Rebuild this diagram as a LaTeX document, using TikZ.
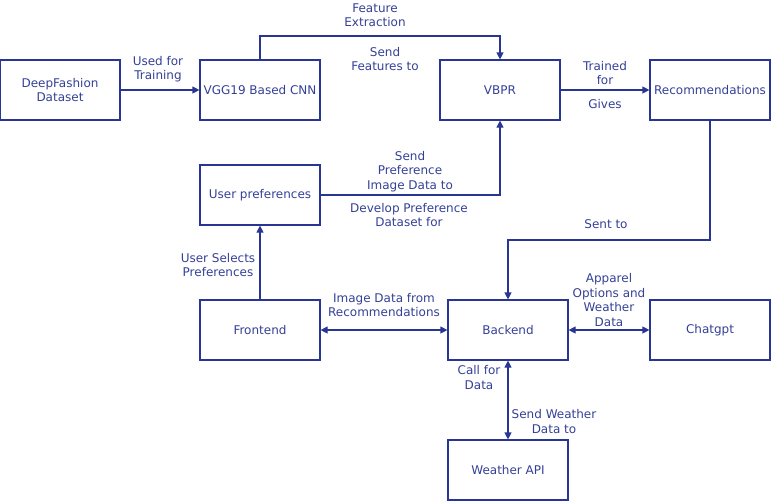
\documentclass[tikz,border=0pt]{standalone}
\usepackage{fontspec}
\setmainfont{DejaVu Sans}
\usetikzlibrary{arrows.meta}
\definecolor{ln}{RGB}{40,53,147}
\definecolor{tx}{RGB}{52,64,150}
\begin{document}
\begin{tikzpicture}[x=1pt,y=-1pt,
  box/.style={draw=ln,line width=1.2pt,minimum width=120pt,minimum height=60pt,inner sep=0pt,text=tx,font=\fontsize{12}{14.5}\selectfont},
  lbl/.style={text=tx,align=center,font=\fontsize{12}{14.5}\selectfont,inner sep=0pt},
  conn/.style={draw=ln,line width=1.2pt,-{Triangle[length=7pt,width=7pt]}},
  conn2/.style={draw=ln,line width=1.2pt,{Triangle[length=7pt,width=7pt]}-{Triangle[length=7pt,width=7pt]}}]
\useasboundingbox (0,0) rectangle (771,501);
\node[box,align=center] (df) at (60,90) {DeepFashion\\Dataset};
\node[box] (vgg) at (260,90) {VGG19 Based CNN};
\node[box] (vbpr) at (500,90) {VBPR};
\node[box] (rec) at (710,90) {Recommendations};
\node[box] (up) at (260,195) {User preferences};
\node[box] (fe) at (260,330) {Frontend};
\node[box] (be) at (508,330) {Backend};
\node[box] (gpt) at (710,330) {Chatgpt};
\node[box] (wapi) at (508,470) {Weather API};
\coordinate (c1) at (260,36);
\coordinate (c2) at (500,36);
\coordinate (c3) at (500,195);
\coordinate (c4) at (710,240);
\coordinate (c5) at (508,240);
\draw[conn] (df) -- (vgg);
\draw[conn] (vgg.north) -- (c1) -- (c2) -- (vbpr.north);
\draw[conn] (vbpr) -- (rec);
\draw[conn] (up.east) -- (c3) -- (vbpr.south);
\draw[conn] (rec.south) -- (c4) -- (c5) -- (be.north);
\draw[conn] (fe) -- (up);
\draw[conn2] (fe) -- (be);
\draw[conn2] (be) -- (gpt);
\draw[conn2] (be) -- (wapi);
\node[lbl] (l1) at (158,69) {Used for\\Training};
\node[lbl] (l2) at (375,15) {Feature\\Extraction};
\node[lbl] (l3) at (385,59) {Send\\Features to};
\node[lbl] (l4) at (605,73) {Trained\\for};
\node[lbl] (l5) at (605,104) {Gives};
\node[lbl] (l6) at (410,171.5) {Send\\Preference\\Image Data to};
\node[lbl] (l7) at (409,215) {Develop Preference\\Dataset for};
\node[lbl] (l8) at (606,224) {Sent to};
\node[lbl] (l9) at (218,265) {User Selects\\Preferences};
\node[lbl] (l10) at (384,305) {Image Data from\\Recommendations};
\node[lbl] (l11) at (609,300) {Apparel\\Options and\\Weather\\Data};
\node[lbl] (l12) at (479,377.5) {Call for\\Data};
\node[lbl] (l13) at (554,421.5) {Send Weather\\Data to};
\end{tikzpicture}
\end{document}
